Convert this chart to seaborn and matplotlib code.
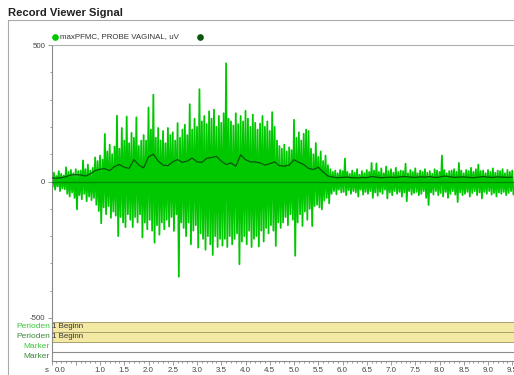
import numpy as np
import pandas as pd
import matplotlib
matplotlib.use("Agg")
import matplotlib.pyplot as plt
import matplotlib.transforms as mtransforms
from matplotlib.lines import Line2D
import seaborn as sns

# ---------------- data ----------------
title = "Record Viewer Signal"
series_name = "maxPFMC, PROBE VAGINAL, uV"
peak_step = 0.05  # s between successive positive peaks
pos_peaks = [
    25, 32, 20, 38, 28, 22,
    52, 35, 42, 30, 45, 38, 40,
    77, 45, 62, 40, 50,
    88, 75, 95, 80,
    174, 110, 135, 100, 128,
    241, 120, 196,
    150, 238, 140, 178,
    160, 235, 130, 150,
    170, 150, 271, 190,
    318, 160, 196,
    150, 185, 140, 196, 170,
    180, 150, 214, 160, 190,
    208, 170, 283, 190, 230,
    200, 338, 220, 240, 210,
    257, 230, 263, 200, 240,
    215, 250, 433, 230, 220,
    205, 250, 210, 240, 220,
    259, 230, 200, 245, 215,
    190, 212, 240, 200, 220,
    185, 254, 200, 150, 130,
    120, 135, 110, 125, 115,
    226, 160, 180, 150, 175,
    190, 185, 120, 100, 141,
    90, 110, 75, 95, 60,
    45, 35, 40, 30, 42,
    38, 84, 35, 28, 40,
    32, 45, 25, 38, 30,
    42, 35, 68, 40, 66,
    35, 48, 30, 55, 38,
    45, 32, 50, 35, 40,
    38, 65, 30, 42, 35,
    48, 30, 40, 35, 45,
    32, 38, 28, 45, 40,
    35, 95, 42, 30, 38,
    40, 45, 35, 68, 40,
    30, 42, 38, 50, 35,
    45, 62, 38, 40, 30,
    42, 35, 48, 32, 40,
    38, 45, 30, 42, 35, 40,
]
neg_peaks = [
    -20, -30, -18, -35, -25, -28,
    -45, -55, -40, -60, -102, -50, -65,
    -45, -72, -55, -68, -60,
    -85, -108, -153, -95,
    -120, -90, -133, -110, -125,
    -200, -130, -150,
    -167, -120, -140, -167,
    -130, -150, -120, -205,
    -150, -175, -140, -180,
    -224, -160, -195,
    -150, -175, -140, -165, -130,
    -181, -120, -349, -150, -170,
    -200, -150, -230, -180, -160,
    -242, -190, -210, -250, -200,
    -230, -269, -200, -240, -210,
    -235, -210, -240, -200, -230,
    -210, -190, -303, -220, -200,
    -230, -180, -240, -210, -200,
    -238, -180, -220, -170, -190,
    -160, -180, -236, -150, -170,
    -150, -130, -160, -120, -140,
    -272, -150, -120, -163, -110,
    -140, -100, -163, -90, -85,
    -95, -102, -70, -60, -80,
    -45, -35, -47, -30, -40,
    -38, -50, -32, -45, -35,
    -40, -55, -30, -48, -38,
    -45, -35, -60, -40, -52,
    -38, -45, -30, -62, -40,
    -50, -35, -45, -38, -55,
    -40, -72, -35, -48, -42,
    -38, -50, -45, -35, -60,
    -86, -40, -48, -35, -50,
    -42, -55, -38, -60, -45,
    -35, -48, -75, -40, -50,
    -45, -38, -55, -42, -35,
    -50, -40, -62, -38, -45,
    -35, -48, -42, -55, -40,
    -45, -38, -50, -42, -35, -48,
]
env_step = 0.1
envelope = [
    13, 12, 14, 18, 24, 25, 24, 20, 28, 40,
    45, 47, 40, 55, 62, 52, 48, 80, 60, 50,
    90, 100, 75, 60, 58, 72, 80, 70, 75, 86,
    72, 70, 85, 88, 92, 75, 62, 68, 56, 98,
    80, 72, 72, 68, 60, 65, 72, 58, 56, 60,
    80, 70, 62, 48, 44, 52, 35, 20, 16, 14,
    15, 16, 14, 13, 15, 14, 18, 16, 14, 15,
    16, 15, 17, 18, 16, 15, 17, 16, 18, 15,
    16, 20, 18, 15, 16, 17, 15, 14, 16, 18,
    16, 15, 17, 16, 15, 16,
]
x_ticks = [0.0, 0.5, 1.0, 1.5, 2.0, 2.5, 3.0, 3.5, 4.0, 4.5,
           5.0, 5.5, 6.0, 6.5, 7.0, 7.5, 8.0, 8.5, 9.0, 9.5]
x_tick_labels = ["", "", "1.0", "1.5", "2.0", "2.5", "3.0", "3.5", "4.0", "4.5",
                 "5.0", "5.5", "6.0", "6.5", "7.0", "7.5", "8.0", "8.5", "9.0", "9.5"]
x_first_label = "0.0"
x_unit = "s"
y_ticks = [-500, 0, 500]
y_tick_labels = ["-500", "0", "500"]
row_labels = ["Perioden", "Perioden", "Marker", "Marker"]
period_texts = ["1 Beginn", "1 Beginn"]

# ---------------- styling ----------------
sns.set_style("white")
plt.rcParams["font.family"] = ["Liberation Sans", "DejaVu Sans"]

SIG = "#00c800"
ENV = "#0b560b"
ZERO = "#008c00"
GRAY = "#8a8a8a"
TXT = "#444444"
FS = 5.7

n = len(pos_peaks)
t_pos = np.arange(n) * peak_step
t_neg = t_pos + peak_step / 2
sig = pd.DataFrame({
    "t": np.column_stack([t_pos, t_neg]).ravel(),
    "v": np.column_stack([pos_peaks, neg_peaks]).ravel(),
})
env = pd.DataFrame({"t": np.arange(len(envelope)) * env_step, "v": envelope})

W, H = 514, 375
fig = plt.figure(figsize=(W / 100, H / 100), dpi=100)


def fx(px):
    return px / W


def fy(py):
    return 1 - py / H


x0 = 51.5
xmax = (W - x0) / 48.5

ax = fig.add_axes([fx(x0), fy(318), 1 - fx(x0), fy(45) - fy(318)])
axb = fig.add_axes([fx(x0), fy(361), 1 - fx(x0), fy(318) - fy(361)], sharex=ax)

sns.lineplot(data=sig, x="t", y="v", ax=ax, color=SIG, lw=1.3,
             estimator=None, sort=False, legend=False)
ax.axhline(0, color=ZERO, lw=1.0, zorder=3)
sns.lineplot(data=env, x="t", y="v", ax=ax, color=ENV, lw=0.9,
             estimator=None, legend=False, zorder=4)

ax.set_xlim(0, xmax)
ax.set_ylim(-500, 500)
ax.set_xlabel("")
ax.set_ylabel("")
ax.set_yticks(y_ticks)
ax.set_yticklabels(y_tick_labels)
ax.set_yticks(np.arange(-400, 401, 100), minor=True)
ax.tick_params(axis="y", which="major", direction="out", length=3, width=0.6,
               color=GRAY, labelsize=FS, labelcolor=TXT, pad=1.5, left=True)
ax.tick_params(axis="y", which="minor", direction="out", length=1.5, width=0.6,
               color=GRAY, left=True)
ax.tick_params(axis="x", which="both", bottom=False, labelbottom=False)
for s in ["right", "bottom"]:
    ax.spines[s].set_visible(False)
ax.spines["left"].set_color(GRAY)
ax.spines["left"].set_linewidth(0.8)
ax.spines["top"].set_color("#b0b0b0")
ax.spines["top"].set_linewidth(0.8)

# band axes (periods / markers)
axb.set_ylim(361, 318)
band_rows = [327, 337]
for yc, txt in zip(band_rows, period_texts):
    axb.barh(yc, xmax + 1, left=0, height=10, color="#f4e9a2",
             edgecolor="#a89f70", linewidth=0.7)
    axb.text(0.02, yc, txt, fontsize=FS, color="#333333", va="center", ha="left")
axb.axhline(352, color=GRAY, lw=0.8)
row_centers = [327, 337, 347, 356.5]
row_colors = ["#3cc63c", "#3a8a3a", "#3cc63c", "#3a8a3a"]
trans = mtransforms.blended_transform_factory(axb.transAxes, axb.transData)
for yc, lab, c in zip(row_centers, row_labels, row_colors):
    axb.text(-0.003, yc, lab, transform=trans, fontsize=6.0, color=c,
             ha="right", va="center")
axb.set_yticks([])
axb.set_xticks(x_ticks)
axb.set_xticklabels(x_tick_labels)
axb.set_xticks(np.arange(0, 9.55, 0.1), minor=True)
axb.tick_params(axis="x", which="major", direction="out", length=3, width=0.6,
                color=GRAY, labelsize=FS, labelcolor=TXT, pad=1.2, bottom=True)
axb.tick_params(axis="x", which="minor", direction="out", length=1.5, width=0.6,
                color=GRAY, bottom=True)
for s in ["right", "top"]:
    axb.spines[s].set_visible(False)
for s in ["left", "bottom"]:
    axb.spines[s].set_color(GRAY)
    axb.spines[s].set_linewidth(0.8)
axb.set_xlim(0, xmax)

fig.text(fx(47), fy(370.5), x_unit, fontsize=FS, color=TXT, ha="center", va="center")
fig.text(fx(60), fy(370.5), x_first_label, fontsize=FS, color=TXT, ha="center", va="center")

# title and panel frame
fig.text(fx(7.5), fy(12.5), title, fontsize=8.1, fontweight="bold", color="#222222",
         ha="left", va="center")
fig.add_artist(Line2D([fx(7.5), 1], [fy(19.5), fy(19.5)], color="#aaaaaa", lw=0.8))
fig.add_artist(Line2D([fx(7.5), fx(7.5)], [fy(19.5), 0], color="#aaaaaa", lw=0.8))

# legend
fig.add_artist(Line2D([fx(55)], [fy(37)], marker="o", ms=3.8, color=SIG, lw=0))
fig.text(fx(59.5), fy(37), series_name, fontsize=FS, color="#333333",
         ha="left", va="center")
fig.add_artist(Line2D([fx(200)], [fy(37)], marker="o", ms=3.8, color=ENV, lw=0))

fig.savefig("out.png", dpi=100)
